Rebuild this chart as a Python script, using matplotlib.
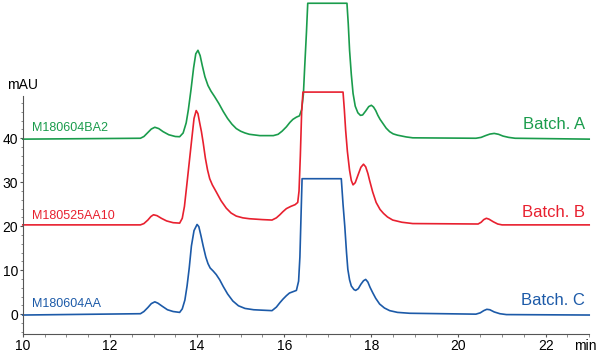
# HPLC chromatograms of three batches, stacked with an offset of 20 mAU
import matplotlib.pyplot as plt
from matplotlib.ticker import MultipleLocator

plt.rcParams['font.family'] = ['Liberation Sans', 'DejaVu Sans']

# Batch A (green), signal relative to its own baseline
t_a = [10.0, 12.7, 12.78, 12.87, 12.95, 13.03, 13.12, 13.22, 13.35, 13.5, 13.6,
       13.68, 13.75, 13.8, 13.86, 13.92, 13.97, 14.02, 14.07, 14.12, 14.18, 14.25,
       14.32, 14.4, 14.5, 14.6, 14.7, 14.8, 14.9, 15.0, 15.1, 15.2, 15.44, 15.75,
       15.86, 15.95, 16.05, 16.13, 16.2, 16.28, 16.35, 16.4, 16.44, 16.47, 16.51,
       16.54, 17.44, 17.47, 17.5, 17.54, 17.58, 17.63, 17.69, 17.75, 17.8, 17.87,
       17.94, 18.0, 18.05, 18.1, 18.15, 18.2, 18.27, 18.34, 18.42, 18.5, 18.6,
       18.8, 18.95, 20.4, 20.52, 20.62, 20.72, 20.82, 20.92, 21.02, 21.15, 21.3, 23.0]
y_a = [-0.2, 0.0, 0.4, 1.3, 2.1, 2.5, 2.2, 1.5, 0.8, 0.4, 0.35,
       1.2, 3.5, 6.5, 11.0, 16.0, 19.2, 20.0, 18.8, 16.5, 14.0, 12.0,
       10.7, 9.5, 7.9, 6.1, 4.5, 3.2, 2.2, 1.6, 1.2, 0.9, 0.6, 0.6,
       0.9, 1.6, 2.6, 3.6, 4.3, 4.8, 5.1, 6.5, 10.0, 16.2, 24.0,
       30.7, 30.7, 26.0, 20.0, 14.5, 10.2, 7.3, 5.8, 5.2, 5.3, 6.2,
       7.2, 7.5, 7.1, 6.3, 5.2, 4.3, 3.3, 2.3, 1.5, 1.0, 0.7,
       0.3, 0.1, 0.0, 0.2, 0.6, 0.95, 1.1, 0.9, 0.5, 0.2, 0.0, -0.2]

# Batch B (red)
t_b = [10.0, 12.7, 12.78, 12.87, 12.94, 13.0, 13.08, 13.18, 13.3, 13.45, 13.6,
       13.66, 13.71, 13.76, 13.82, 13.88, 13.93, 13.98, 14.02, 14.06, 14.1, 14.14,
       14.19, 14.24, 14.29, 14.35, 14.44, 14.55, 14.67, 14.78, 14.9, 15.05, 15.2,
       15.5, 15.72, 15.82, 15.9, 15.97, 16.05, 16.15, 16.25, 16.31, 16.34, 16.37,
       16.4, 16.43, 17.35, 17.38, 17.41, 17.45, 17.5, 17.54, 17.58, 17.63, 17.7,
       17.76, 17.82, 17.87, 17.92, 17.96, 18.03, 18.11, 18.2, 18.28, 18.37, 18.49,
       18.7, 18.95, 20.45, 20.52, 20.58, 20.64, 20.7, 20.8, 20.9, 21.0, 23.0]
y_b = [0.3, 0.3, 0.6, 1.4, 2.2, 2.6, 2.4, 1.8, 1.2, 0.8, 0.7,
       1.8, 4.5, 9.0, 14.5, 20.0, 24.5, 26.3, 25.6, 23.5, 21.5, 19.0,
       15.5, 12.8, 10.8, 9.4, 7.8, 5.8, 4.1, 3.0, 2.3, 1.9, 1.7,
       1.5, 1.4, 1.9, 2.6, 3.3, 4.0, 4.5, 4.9, 5.4, 8.0, 16.0,
       26.0, 30.5, 30.5, 26.5, 21.8, 17.0, 12.7, 10.4, 9.4, 9.9, 11.8,
       13.4, 14.1, 13.5, 12.0, 10.4, 7.8, 5.4, 3.8, 2.9, 2.1, 1.4,
       0.9, 0.6, 0.5, 0.9, 1.5, 1.8, 1.6, 1.0, 0.5, 0.3, 0.3]

# Batch C (blue)
t_c = [10.0, 12.7, 12.78, 12.87, 12.95, 13.03, 13.1, 13.2, 13.32, 13.45, 13.6,
       13.66, 13.72, 13.77, 13.82, 13.87, 13.93, 14.0, 14.04, 14.09, 14.14, 14.2,
       14.25, 14.3, 14.37, 14.44, 14.52, 14.6, 14.7, 14.82, 14.95, 15.1, 15.3,
       15.5, 15.72, 15.82, 15.9, 15.97, 16.05, 16.12, 16.2, 16.28, 16.33, 16.36,
       16.39, 16.41, 17.31, 17.35, 17.39, 17.43, 17.46, 17.5, 17.54, 17.6, 17.64,
       17.7, 17.76, 17.82, 17.87, 17.92, 17.97, 18.03, 18.1, 18.19, 18.3, 18.42,
       18.6, 18.88, 20.4, 20.5, 20.58, 20.65, 20.72, 20.82, 20.95, 21.1, 23.0]
y_c = [-0.2, 0.1, 0.6, 1.5, 2.4, 2.8, 2.5, 1.8, 1.0, 0.6, 0.4,
       1.2, 3.2, 6.4, 10.5, 15.5, 19.0, 20.4, 19.9, 17.8, 15.5, 13.0,
       11.5, 10.5, 9.8, 9.0, 7.8, 6.3, 4.6, 3.0, 1.9, 1.3, 1.0,
       0.9, 0.8, 1.6, 2.6, 3.4, 4.2, 4.8, 5.1, 5.4, 7.5, 13.0,
       23.8, 30.8, 30.8, 25.0, 20.0, 14.0, 10.2, 7.8, 6.4, 5.6, 5.4,
       5.8, 6.8, 7.6, 7.9, 7.3, 6.1, 4.9, 3.6, 2.3, 1.4, 0.8,
       0.4, 0.2, 0.0, 0.3, 0.8, 1.1, 1.0, 0.5, 0.1, -0.1, -0.2]

offsets = [40, 20, 0]
samples = ['M180604BA2', 'M180525AA10', 'M180604AA']
batches = ['Batch. A', 'Batch. B', 'Batch. C']
colors = ['#1a9c4c', '#e8202f', '#1c5aa8']

fig = plt.figure(figsize=(6, 3.53), dpi=100)
ax = fig.add_axes([0.038, 0.054, 0.944, 0.943])

for t, y, off, name, batch, c in zip([t_a, t_b, t_c], [y_a, y_b, y_c], offsets,
                                     samples, batches, colors):
    ax.plot(t, [v + off for v in y], color=c, lw=1.2, clip_on=False)
    ax.text(10.2, off + 2.4, name, color=c, fontsize=9, ha='left', va='center')
    ax.text(22.9, off + 3.2, batch, color=c, fontsize=12, ha='right', va='center')

ax.set_xlim(10, 23)
ax.set_ylim(-4.5, 71.2)

# only left and bottom axis lines
for s in ['top', 'right']:
    ax.spines[s].set_visible(False)
for s in ['left', 'bottom']:
    ax.spines[s].set_color('#555555')
    ax.spines[s].set_linewidth(0.8)
ax.spines['left'].set_bounds(-4.5, 49.5)

ax.set_xticks([10, 12, 14, 16, 18, 20, 22])
ax.set_yticks([0, 10, 20, 30, 40])
ax.xaxis.set_minor_locator(MultipleLocator(0.5))
ax.set_yticks(range(-4, 50, 2), minor=True)
ax.tick_params(which='major', length=2.5, width=0.8, color='#555555',
               labelsize=10, pad=1)
ax.tick_params(which='minor', length=1.8, width=0.6, color='#777777')

ax.text(10, 52, 'mAU', fontsize=10, ha='center', va='center')
ax.annotate('min', xy=(22.9, 0), xycoords=('data', 'axes fraction'),
            xytext=(0, -3.5), textcoords='offset points',
            ha='center', va='top', fontsize=10)

fig.savefig('out.png')
